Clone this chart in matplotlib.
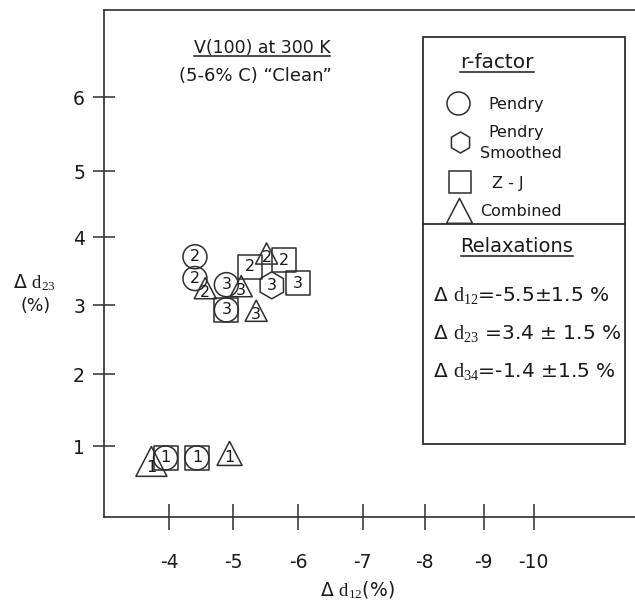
import numpy as np
import matplotlib
matplotlib.use("Agg")
import matplotlib.pyplot as plt
from matplotlib.lines import Line2D
from matplotlib.patches import Rectangle
from matplotlib.path import Path

plt.rcParams['font.family'] = ['DejaVu Sans']
plt.rcParams['mathtext.fontset'] = 'custom'
plt.rcParams['mathtext.rm'] = 'Liberation Serif'
plt.rcParams['mathtext.it'] = 'Liberation Serif:italic'
plt.rcParams['mathtext.bf'] = 'Liberation Serif:bold'
plt.rcParams['mathtext.sf'] = 'DejaVu Sans'

# ---------------- data ----------------
x_ticks = [-4, -5, -6, -7, -8, -9, -10]
y_ticks = [1, 2, 3, 4, 5, 6]

pendry_x = [-4.40, -4.40, -4.89, -4.89, -3.94, -4.43]
pendry_y = [3.71, 3.39, 3.30, 2.93, 0.83, 0.83]
pendry_lab = ['2', '2', '3', '3', '1', '1']

smooth_x = [-5.59]
smooth_y = [3.29]
smooth_lab = ['3']

zj_x = [-5.25, -5.78, -5.99, -4.89, -3.94, -4.43]
zj_y = [3.56, 3.66, 3.32, 2.93, 0.83, 0.83]
zj_lab = ['2', '2', '3', '3', '1', '1']

comb_x = [-4.56, -5.12, -5.51, -5.35, -3.72, -4.94]
comb_y = [3.19, 3.22, 3.70, 2.86, 0.70, 0.83]
comb_lab = ['2', '3', '2', '3', '1', '1']

legend_names = ['Pendry', 'Pendry\nSmoothed', 'Z - J', 'Combined']
relax_lines = [r"Δ $\mathrm{d}_{12}$=-5.5±1.5 %",
               r"Δ $\mathrm{d}_{23}$ =3.4 ± 1.5 %",
               r"Δ $\mathrm{d}_{34}$=-1.4 ±1.5 %"]

# ---------------- figure ----------------
W, H = 635, 603
fig = plt.figure(figsize=(W / 100, H / 100), dpi=100)
fig.patch.set_facecolor('white')

def fx(px):
    return px / W

def fy(py):
    return 1 - py / H

LC = '#2e2e2e'
TC = '#1a1a1a'

ax = fig.add_axes([fx(104), fy(517), 1 - fx(104), fy(10) - fy(517)])

# hand-drawn (slightly uneven) axis scales, piecewise linear through tick marks
xs_anchor = np.array([-13, -10, -9, -8, -7, -6, -5, -4, -2, -1], float)
xp_anchor = np.array([699, 534, 484, 425, 363, 299, 234, 170, 42, -22], float)
ys_anchor = np.array([-1, 0, 1, 2, 3, 4, 5, 6, 7, 8], float)
yp_anchor = np.array([586, 516, 446, 374, 305, 237, 171, 97, 25, -47], float)

def xf(v):
    return -np.interp(v, xs_anchor, xp_anchor)

def xi(u):
    return np.interp(-np.asarray(u), xp_anchor[::-1], xs_anchor[::-1])

def yf(v):
    return -np.interp(v, ys_anchor, yp_anchor)

def yi(u):
    return np.interp(-np.asarray(u), yp_anchor[::-1], ys_anchor[::-1])

ax.set_xscale('function', functions=(xf, xi))
ax.set_yscale('function', functions=(yf, yi))

# markers
def pt(px):
    return px * 0.72

TRI = Path([(0, 0.66), (-0.5, -0.3), (0.5, -0.3), (0, 0.66)],
           [Path.MOVETO, Path.LINETO, Path.LINETO, Path.CLOSEPOLY])
tri_w = lambda wpx: pt(wpx * 1.32)

lw = 1.1
ax.scatter(pendry_x, pendry_y, marker='o', s=pt(24) ** 2, facecolors='none',
           edgecolors=LC, linewidths=lw, zorder=3)
ax.scatter(smooth_x, smooth_y, marker='h', s=pt(27) ** 2, facecolors='none',
           edgecolors=LC, linewidths=lw, zorder=3)
ax.scatter(zj_x, zj_y, marker='s', s=pt(24) ** 2, facecolors='none',
           edgecolors=LC, linewidths=lw, zorder=3)
tri_sizes = [tri_w(22) ** 2] * 4 + [tri_w(31) ** 2, tri_w(25) ** 2]
ax.scatter(comb_x, comb_y, marker=TRI, s=tri_sizes, facecolors='none',
           edgecolors=LC, linewidths=lw, zorder=3)

seen = set()
for xs_, ys_, ls_ in [(pendry_x, pendry_y, pendry_lab), (smooth_x, smooth_y, smooth_lab),
                      (zj_x, zj_y, zj_lab), (comb_x, comb_y, comb_lab)]:
    for x, y, l in zip(xs_, ys_, ls_):
        key = (round(x, 2), round(y, 2))
        if key in seen:
            continue
        seen.add(key)
        ax.text(x, y, l, ha='center', va='center', fontsize=11.5, color=TC, zorder=4)

ax.set_xlim(-2.98, -11.84)
ax.set_ylim(-0.014, 7.21)
ax.set_xticks(x_ticks)
ax.set_xticklabels([str(t) for t in x_ticks])
ax.set_yticks(y_ticks)
ax.set_yticklabels([str(t) for t in y_ticks])
ax.minorticks_off()

for s in ['left', 'bottom', 'top']:
    ax.spines[s].set_color(LC)
    ax.spines[s].set_linewidth(1.2)
ax.spines['right'].set_visible(False)
ax.tick_params(axis='y', direction='inout', length=pt(22), width=1.1, color=LC,
               labelsize=13.5, labelcolor=TC, pad=pt(8))
ax.tick_params(axis='x', direction='inout', length=pt(27), width=1.1, color=LC,
               labelsize=13.5, labelcolor=TC, pad=pt(22))
ax.set_facecolor('none')

# axis labels
fig.text(fx(34), fy(283), r"Δ $\mathrm{d}_{23}$", ha='center', va='center', fontsize=13.5, color=TC)
fig.text(fx(36), fy(306), "(%)", ha='center', va='center', fontsize=12.5, color=TC)
fig.text(fx(357), fy(590), r"Δ $\mathrm{d}_{12}$(%)", ha='center', va='center', fontsize=13.5, color=TC)

# titles
t1 = fig.text(fx(262), fy(48), "V(100) at 300 K", ha='center', va='center', fontsize=12.5, color=TC)
fig.text(fx(255), fy(76), "(5-6% C) \u201cClean\u201d", ha='center', va='center', fontsize=13,
         color=TC, fontweight='medium')

# legend box
fig.add_artist(Rectangle((fx(423), fy(444)), fx(625) - fx(423), fy(37) - fy(444),
                         transform=fig.transFigure, fill=False, edgecolor=LC, linewidth=1.3))
fig.add_artist(Line2D([fx(423), fx(625)], [fy(224), fy(224)], transform=fig.transFigure,
                      color=LC, linewidth=1.3))

t2 = fig.text(fx(497), fy(63), "r-factor", ha='center', va='center', fontsize=14.5, color=TC)
leg_markers = [('o', pt(23), (458, 103)), ('h', pt(21), (460, 142)),
               ('s', pt(23), (460, 182)), (TRI, tri_w(26), (459, 215))]
for m, ms, (px, py) in leg_markers:
    fig.add_artist(Line2D([fx(px)], [fy(py)], marker=m, markersize=ms, markerfacecolor='none',
                          markeredgecolor=LC, markeredgewidth=lw, linestyle='none',
                          transform=fig.transFigure))
fig.text(fx(488), fy(105), legend_names[0], ha='left', va='center', fontsize=11.5, color=TC)
fig.text(fx(488), fy(132), legend_names[1].split('\n')[0], ha='left', va='center', fontsize=11.5, color=TC)
fig.text(fx(480), fy(153), legend_names[1].split('\n')[1], ha='left', va='center', fontsize=11.5, color=TC)
fig.text(fx(492), fy(183), legend_names[2], ha='left', va='center', fontsize=11.5, color=TC)
fig.text(fx(480), fy(212), legend_names[3], ha='left', va='center', fontsize=11.5, color=TC)

t3 = fig.text(fx(517), fy(247), "Relaxations", ha='center', va='center', fontsize=14, color=TC)
for i, s_ in enumerate(relax_lines):
    fig.text(fx(433), fy(295 + 38.5 * i), s_, ha='left', va='center', fontsize=14.5, color=TC)

# underlines
fig.canvas.draw()
r = fig.canvas.get_renderer()
for t in [t1, t2, t3]:
    bb = t.get_window_extent(r)
    yy = (bb.y0 + 1) / fig.bbox.height
    fig.add_artist(Line2D([bb.x0 / fig.bbox.width, bb.x1 / fig.bbox.width], [yy, yy],
                          transform=fig.transFigure, color=TC, linewidth=1.1))

fig.savefig("out.png", dpi=100, facecolor='white')
